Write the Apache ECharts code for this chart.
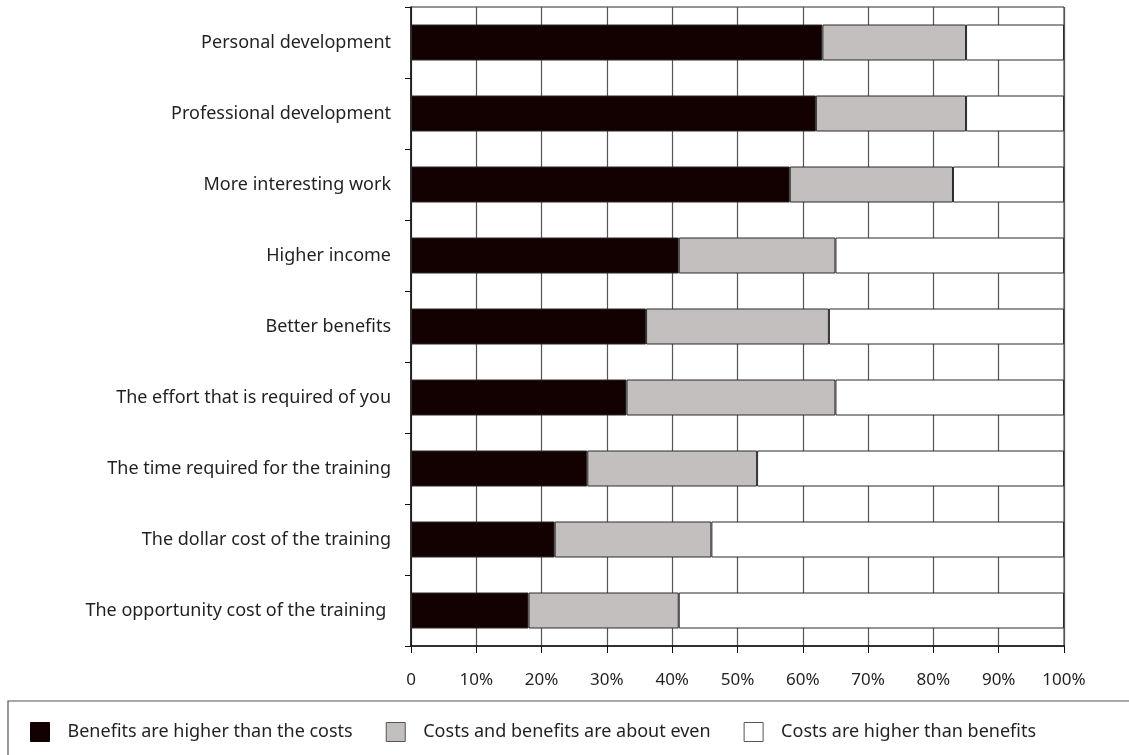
<!DOCTYPE html>
<html>
<head>
<meta charset="utf-8">
<script src="https://cdn.jsdelivr.net/npm/echarts@6/dist/echarts.min.js"></script>
<style>
  html, body { margin: 0; padding: 0; background: #fff; }
  #chart { width: 1129px; height: 755px; }
</style>
</head>
<body>
<div id="chart"></div>
<script>
const categories = [
  'Personal development',
  'Professional development',
  'More interesting work',
  'Higher income',
  'Better benefits',
  'The effort that is required of you',
  'The time required for the training',
  'The dollar cost of the training',
  'The opportunity cost of the training '
];
const benefitsHigher = [63, 62, 58, 41, 36, 33, 27, 22, 18];
const aboutEven = [22, 23, 25, 24, 28, 32, 26, 24, 23];
const costsHigher = [15, 15, 17, 35, 36, 35, 47, 54, 59];
const seriesNames = [
  'Benefits are higher than the costs',
  'Costs and benefits are about even',
  'Costs are higher than benefits'
];

const textColor = '#231f20';
const fontFamily = '"Noto Sans", "Open Sans", sans-serif';
const fills = ['#130000', '#c2bfbe', '#ffffff'];

const chart = echarts.init(document.getElementById('chart'));

const makeSeries = (name, data, color) => ({
  name: name,
  type: 'bar',
  stack: 'total',
  barWidth: 36,
  data: data,
  itemStyle: {
    color: color,
    borderColor: '#2b2b2b',
    borderWidth: 1
  },
  emphasis: { disabled: true }
});

chart.setOption({
  animation: false,
  textStyle: { fontFamily: fontFamily },
  grid: {
    left: 411,
    right: 65,
    top: 7,
    bottom: 109,
    show: true,
    borderColor: '#2b2b2b',
    borderWidth: 1
  },
  xAxis: {
    type: 'value',
    min: 0,
    max: 100,
    interval: 10,
    axisLine: { show: true, lineStyle: { color: '#111', width: 1.5 } },
    axisTick: { show: true, length: 7, lineStyle: { color: '#111' } },
    axisLabel: {
      color: textColor,
      fontSize: 17,
      margin: 26,
      formatter: v => (v === 0 ? '0' : v + '%')
    },
    splitLine: { show: true, lineStyle: { color: '#555', width: 1.2 } }
  },
  yAxis: {
    type: 'category',
    data: categories,
    inverse: true,
    axisLine: { show: true, lineStyle: { color: '#111', width: 1.5 } },
    axisTick: { show: true, length: 6, lineStyle: { color: '#111' } },
    axisLabel: {
      color: textColor,
      fontSize: 18,
      margin: 20
    },
    splitLine: { show: false }
  },
  legend: {
    left: 25,
    top: 717,
    itemWidth: 19,
    itemHeight: 19,
    itemGap: 33,
    icon: 'rect',
    selectedMode: false,
    data: seriesNames.map((n, i) => ({
      name: n,
      itemStyle: { color: fills[i], borderColor: i === 0 ? '#130000' : '#555', borderWidth: 1 }
    })),
    textStyle: {
      color: textColor,
      fontSize: 18,
      padding: [0, 0, 0, 13]
    }
  },
  graphic: [
    {
      type: 'rect',
      shape: { x: 8, y: 701, width: 1130, height: 70 },
      style: { fill: 'none', stroke: '#555', lineWidth: 1.2 },
      z: -1
    }
  ],
  series: [
    makeSeries(seriesNames[0], benefitsHigher, fills[0]),
    makeSeries(seriesNames[1], aboutEven, fills[1]),
    makeSeries(seriesNames[2], costsHigher, fills[2])
  ]
});
</script>
</body>
</html>
